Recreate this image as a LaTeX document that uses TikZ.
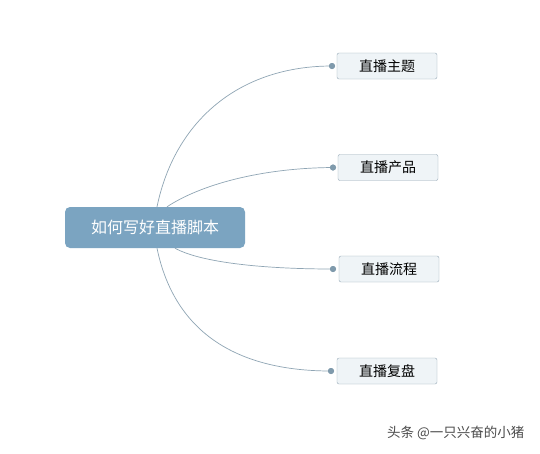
\documentclass[tikz,border=0pt]{standalone}
\usepackage{fontspec}
\usetikzlibrary{positioning}
\newfontfamily\cjk{Noto Sans CJK SC}
\definecolor{rootblue}{HTML}{7BA4C1}
\definecolor{topicfill}{HTML}{EFF4F7}
\definecolor{topicline}{HTML}{97AAB7}
\definecolor{branch}{HTML}{8FA5B4}
\definecolor{dotblue}{HTML}{7F9AAC}

\begin{document}
\begin{tikzpicture}[x=1pt,y=-1pt,node distance =2cm and 3cm ,on grid ,
root/.style ={ rectangle ,rounded corners =5pt ,fill =rootblue ,
text =white ,font =\cjk\fontsize{16}{18}\selectfont ,
minimum width =180pt ,minimum height =41pt ,inner sep =0pt},
topic/.style ={ rectangle ,rounded corners =2pt ,fill =topicfill ,
draw =topicline ,text =black ,font =\cjk\fontsize{14}{16}\selectfont ,
minimum width =100pt ,minimum height =26pt ,inner sep =0pt},
branch/.style ={ draw =branch ,line width =0.7pt},
knob/.style ={ circle ,fill =dotblue ,minimum size =6pt ,inner sep =0pt}]
\fill[white] (0,0) rectangle (540,453);
\useasboundingbox (0,0) rectangle (540,453);
\node[root] (R) at (155,227.5) {如何写好直播脚本};
\node[topic] (T1) [above right = 161.5pt and 232pt of R] {直播主题};
\node[topic] (T2) [above right = 60pt and 233pt of R] {直播产品};
\node[topic] (T3) [below right = 41.5pt and 234pt of R] {直播流程};
\node[topic] (T4) [below right = 143.5pt and 232pt of R] {直播复盘};
\node[knob] (K1) [left = 55pt of T1] {};
\node[knob] (K2) [left = 55pt of T2] {};
\node[knob] (K3) [left = 56pt of T3] {};
\node[knob] (K4) [left = 56pt of T4] {};
\draw[branch] ([xshift=2pt]R.north) .. controls (175,120) and (240,66) .. (K1.center);
\draw[branch] ([xshift=12pt]R.north) .. controls (200,185) and (260,168) .. (K2.center);
\draw[branch] ([xshift=20pt]R.south) .. controls (200,262) and (260,269) .. (K3.center);
\draw[branch] ([xshift=2pt]R.south) .. controls (175,335) and (240,371) .. (K4.center);
\node[knob] at (K1) {};
\node[knob] at (K2) {};
\node[knob] at (K3) {};
\node[knob] at (K4) {};
\node (W) [text =black!70 ,font =\cjk\fontsize{13.5}{15}\selectfont ,anchor =east]
at (528,433) {头条 @一只兴奋的小猪};
\end{tikzpicture}
\end{document}
